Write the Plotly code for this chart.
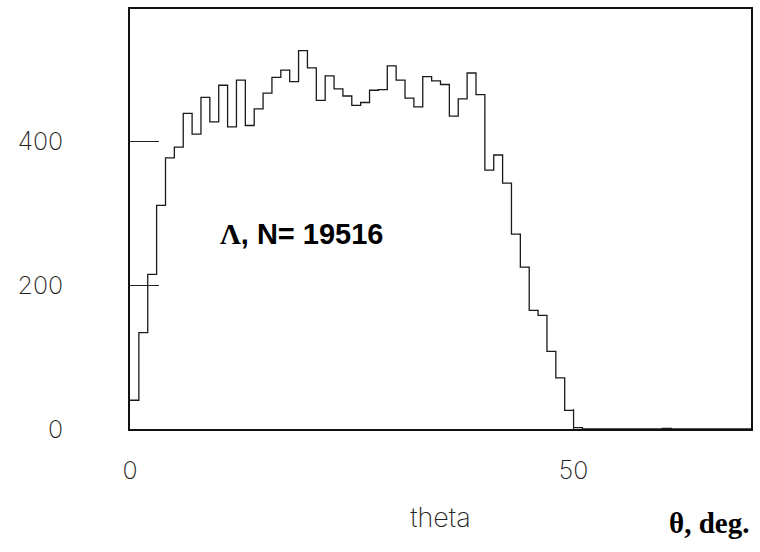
import plotly.graph_objects as go

# Histogram of theta (1 degree bins, 0..70)
bin_width = 1.0
counts = [40, 134, 215, 311, 377, 392, 439, 410, 461, 427,
          478, 420, 485, 422, 445, 467, 489, 499, 483, 526,
          502, 457, 491, 473, 463, 450, 454, 471, 472, 505,
          485, 460, 448, 490, 484, 479, 435, 459, 495, 465,
          360, 381, 342, 271, 225, 165, 158, 108, 71, 26,
          2, 0, 0, 0, 0, 0, 0, 0, 0, 0,
          1, 0, 0, 0, 0, 0, 0, 0, 0, 0]
x_ticks = [0, 50]
y_ticks = [0, 200, 400]
label_text = "<span style='font-family:Liberation Serif'>Λ</span>, N= 19516"
unit_text = "θ, deg."
x_title = "theta"

edges = [i * bin_width for i in range(len(counts) + 1)]
xs = edges
ys = counts + [counts[-1]]

fig = go.Figure()
fig.add_trace(go.Scatter(
    x=xs, y=ys, mode="lines", line=dict(shape="hv", color="#1a1a1a", width=1.3),
    hoverinfo="skip", showlegend=False))

tick_font = dict(family="Inter, DejaVu Sans, sans-serif", size=25, color="#222", weight=200)
title_font = dict(family="Inter, DejaVu Sans, sans-serif", size=27, color="#222", weight=200)

fig.update_layout(
    width=760, height=552,
    margin=dict(l=130, r=8, t=7, b=123),
    paper_bgcolor="white", plot_bgcolor="white",
    showlegend=False,
    xaxis=dict(range=[0, 70], tickvals=x_ticks, ticktext=[str(v) for v in x_ticks],
               ticks="inside", ticklen=20, tickcolor="#222", tickwidth=1,
               showgrid=False, zeroline=False,
               showline=True, linecolor="#111", linewidth=1.6, mirror=True,
               tickfont=tick_font, ticklabelstandoff=18,
               title=dict(text=x_title, font=title_font, standoff=24)),
    yaxis=dict(range=[0, 584], tickvals=y_ticks, ticktext=[str(v) for v in y_ticks],
               ticks="inside", ticklen=29, tickcolor="#222", tickwidth=1,
               showgrid=False, zeroline=False,
               showline=True, linecolor="#111", linewidth=1.6, mirror=True,
               tickfont=tick_font, ticklabelstandoff=60),
    annotations=[
        dict(text=label_text, xref="paper", yref="paper",
             x=(218 - 130) / 622, y=(429 - 233) / 422, xanchor="left", yanchor="middle",
             showarrow=False,
             font=dict(family="Liberation Sans, Arial, sans-serif", size=29, color="black", weight="bold")),
        dict(text=unit_text, xref="paper", yref="paper",
             x=(752 - 130) / 622, y=(429 - 523) / 422, xanchor="right", yanchor="middle",
             showarrow=False,
             font=dict(family="Liberation Serif, Times New Roman, serif", size=29, color="black", weight="bold")),
    ],
)

fig.write_html("out.html")
